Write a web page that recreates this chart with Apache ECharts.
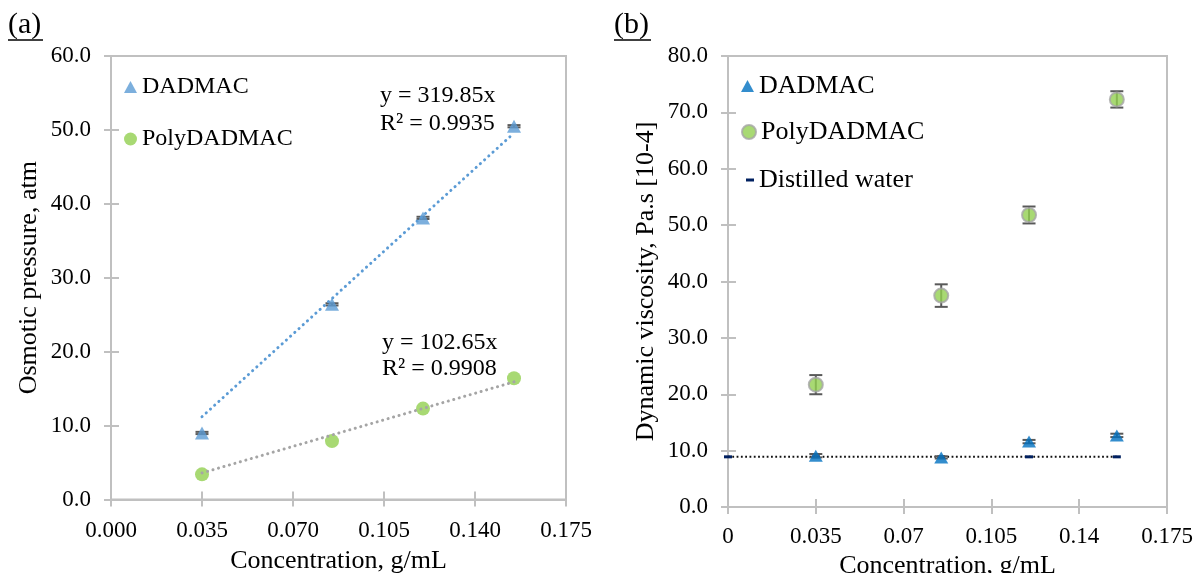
<!DOCTYPE html>
<html>
<head>
<meta charset="utf-8">
<script src="https://cdn.jsdelivr.net/npm/echarts@6/dist/echarts.min.js"></script>
<style>html,body{margin:0;padding:0;background:#fff;}#c{width:1201px;height:573px;}</style>
</head>
<body>
<div id="c"></div>
<script>
// ---- data ----
const conc = [0.035, 0.085, 0.12, 0.155];
const osmDAD = [9.0, 26.4, 38.1, 50.5];
const osmDADerr = [0.15, 0.15, 0.15, 0.15];
const osmPoly = [3.4, 7.9, 12.3, 16.4];
const slopeDAD = 319.85;
const slopePoly = 102.65;
const visDAD = [9.1, 8.8, 11.6, 12.7];
const visDADerr = [0.3, 0.2, 0.3, 0.3];
const visPoly = [21.7, 37.5, 51.8, 72.3];
const visPolyErr = [1.7, 2.0, 1.5, 1.45];
const waterConc = [0, 0.035, 0.085, 0.12, 0.155];
const waterVis = [8.9, 8.9, 8.9, 8.9, 8.9];

const FONT = '"Liberation Serif", "Times New Roman", serif';
const AXC = '#c0c0c0';

const pts = (xs, ys) => xs.map((x, i) => [x, ys[i]]);
const errs = (xs, ys, es) => xs.map((x, i) => [x, ys[i] - es[i], ys[i] + es[i]]);
const trend = (xs, k) => [[xs[0], k * xs[0]], [xs[xs.length - 1], k * xs[xs.length - 1]]];

function errRender(params, api) {
  const x = api.value(0), lo = api.value(1), hi = api.value(2);
  const a = api.coord([x, hi]), b = api.coord([x, lo]);
  const h = 6.5;
  const st = { stroke: '#595959', lineWidth: 2 };
  return {
    type: 'group',
    children: [
      { type: 'line', shape: { x1: a[0], y1: a[1], x2: b[0], y2: b[1] }, style: st },
      { type: 'line', shape: { x1: a[0] - h, y1: a[1], x2: a[0] + h, y2: a[1] }, style: st },
      { type: 'line', shape: { x1: b[0] - h, y1: b[1], x2: b[0] + h, y2: b[1] }, style: st }
    ]
  };
}

function mainX(grid, fmt, gap, margin) {
  return {
    type: 'value', gridIndex: grid, position: 'bottom', min: 0, max: 0.175, interval: 0.035,
    name: 'Concentration, g/mL', nameLocation: 'middle', nameGap: gap,
    nameTextStyle: { fontFamily: FONT, fontSize: 26, color: '#000' },
    axisLine: { show: true, lineStyle: { color: AXC, width: 2 } },
    axisTick: { show: true, length: 7, lineStyle: { color: AXC, width: 2 } },
    axisLabel: { fontFamily: FONT, fontSize: 23, color: '#000', margin: margin, formatter: fmt },
    splitLine: { show: false }
  };
}
function innerX(grid) {
  return {
    type: 'value', gridIndex: grid, position: 'bottom', min: 0, max: 0.175, interval: 0.035,
    axisLine: { show: false }, axisLabel: { show: false }, splitLine: { show: false },
    axisTick: { show: true, inside: true, length: 8, lineStyle: { color: AXC, width: 2 } }
  };
}
function mainY(grid, max, name, gap) {
  return {
    type: 'value', gridIndex: grid, position: 'left', min: 0, max: max, interval: 10,
    name: name, nameLocation: 'middle', nameGap: gap,
    nameTextStyle: { fontFamily: FONT, fontSize: 26, color: '#000' },
    axisLine: { show: true, lineStyle: { color: AXC, width: 2 } },
    axisTick: { show: true, length: 7, lineStyle: { color: AXC, width: 2 } },
    axisLabel: { fontFamily: FONT, fontSize: 23, color: '#000', margin: 20, formatter: v => v.toFixed(1) },
    splitLine: { show: false }
  };
}
function innerY(grid, max) {
  return {
    type: 'value', gridIndex: grid, position: 'left', min: 0, max: max, interval: 10,
    axisLine: { show: false }, axisLabel: { show: false }, splitLine: { show: false },
    axisTick: { show: true, inside: true, length: 8, lineStyle: { color: AXC, width: 2 } }
  };
}
function leg(name, left, top, icon, w, h, fs) {
  return {
    data: [{ name: name, icon: icon }], left: left, top: top, orient: 'vertical',
    itemWidth: w, itemHeight: h, padding: 0, selectedMode: false,
    formatter: n => n.slice(2),
    textStyle: { fontFamily: FONT, fontSize: fs, color: '#000', lineHeight: fs }
  };
}

const chart = echarts.init(document.getElementById('c'));
chart.setOption({
  animation: false,
  backgroundColor: '#fff',
  grid: [
    { left: 111, top: 56, width: 455, height: 443.5, show: true, borderColor: AXC, borderWidth: 2,
      containLabel: false, outerBoundsMode: 'none' },
    { left: 728, top: 56, width: 439, height: 451, show: true, borderColor: AXC, borderWidth: 2,
      containLabel: false, outerBoundsMode: 'none' }
  ],
  xAxis: [
    mainX(0, v => v.toFixed(3), 49, 20), innerX(0),
    mainX(1, v => String(parseFloat(v.toFixed(3))), 44, 18), innerX(1)
  ],
  yAxis: [
    mainY(0, 60, 'Osmotic pressure, atm', 69), innerY(0, 60),
    mainY(1, 80, 'Dynamic viscosity, Pa.s [10-4]', 69), innerY(1, 80)
  ],
  legend: [
    leg('a_DADMAC', 124, 75, 'triangle', 13, 12, 24),
    leg('a_PolyDADMAC', 124, 127, 'circle', 13, 13, 24),
    leg('b_DADMAC', 741, 73, 'triangle', 13, 12, 26),
    leg('b_PolyDADMAC', 741, 119, 'circle', 14, 14, 26),
    leg('b_Distilled water', 746, 167, 'rect', 8, 3, 26)
  ],
  series: [
    // panel (a)
    { name: 'a_DADMAC_err', type: 'custom', xAxisIndex: 0, yAxisIndex: 0, renderItem: errRender,
      encode: { x: 0, y: [1, 2] }, data: errs(conc, osmDAD, osmDADerr), z: 2 },
    { name: 'a_DADMAC', type: 'scatter', xAxisIndex: 0, yAxisIndex: 0, symbol: 'triangle', symbolSize: [14, 13],
      itemStyle: { color: '#5b9bd5' }, data: pts(conc, osmDAD), z: 3 },
    { name: 'a_PolyDADMAC', type: 'scatter', xAxisIndex: 0, yAxisIndex: 0, symbol: 'circle', symbolSize: 14,
      itemStyle: { color: '#92d050' }, data: pts(conc, osmPoly), z: 3 },
    { name: 'a_trendDAD', type: 'line', xAxisIndex: 0, yAxisIndex: 0, symbol: 'none', silent: true,
      lineStyle: { color: '#5b9bd5', width: 3, type: [0.1, 5.6], cap: 'round' }, data: trend(conc, slopeDAD), z: 4 },
    { name: 'a_trendPoly', type: 'line', xAxisIndex: 0, yAxisIndex: 0, symbol: 'none', silent: true,
      lineStyle: { color: '#a5a5a5', width: 3, type: [0.1, 5.6], cap: 'round' }, data: trend(conc, slopePoly), z: 4 },
    // panel (b)
    { name: 'b_Distilled water', type: 'line', xAxisIndex: 2, yAxisIndex: 2, symbol: 'rect', symbolSize: [8, 3],
      itemStyle: { color: '#002060' }, lineStyle: { color: '#111', width: 2, type: [1.8, 2.5] },
      data: pts(waterConc, waterVis), z: 2 },
    { name: 'b_Poly_err', type: 'custom', xAxisIndex: 2, yAxisIndex: 2, renderItem: errRender,
      encode: { x: 0, y: [1, 2] }, data: errs(conc, visPoly, visPolyErr), z: 3 },
    { name: 'b_DAD_err', type: 'custom', xAxisIndex: 2, yAxisIndex: 2, renderItem: errRender,
      encode: { x: 0, y: [1, 2] }, data: errs(conc, visDAD, visDADerr), z: 3 },
    { name: 'b_DADMAC', type: 'scatter', xAxisIndex: 2, yAxisIndex: 2, symbol: 'triangle', symbolSize: [14, 12],
      itemStyle: { color: '#0070c0' }, data: pts(conc, visDAD), z: 4 },
    { name: 'b_PolyDADMAC', type: 'scatter', xAxisIndex: 2, yAxisIndex: 2, symbol: 'circle', symbolSize: 14,
      itemStyle: { color: '#92d050', borderColor: '#a5a5a5', borderWidth: 2 }, data: pts(conc, visPoly), z: 4 }
  ],
  graphic: [
    { type: 'text', left: 8, top: 10, style: { text: '(a)', fontFamily: FONT, fontSize: 30, fill: '#000' } },
    { type: 'line', shape: { x1: 8, y1: 40, x2: 43, y2: 40 }, style: { stroke: '#000', lineWidth: 1.5 } },
    { type: 'text', left: 614, top: 10, style: { text: '(b)', fontFamily: FONT, fontSize: 30, fill: '#000' } },
    { type: 'line', shape: { x1: 614, y1: 40, x2: 651, y2: 40 }, style: { stroke: '#000', lineWidth: 1.5 } },
    { type: 'text', left: 380, top: 82, style: { text: 'y = 319.85x\nR² = 0.9935', fontFamily: FONT, fontSize: 24, lineHeight: 28, fill: '#000' } },
    { type: 'text', left: 382, top: 330, style: { text: 'y = 102.65x\nR² = 0.9908', fontFamily: FONT, fontSize: 24, lineHeight: 26, fill: '#000' } }
  ]
});
</script>
</body>
</html>
